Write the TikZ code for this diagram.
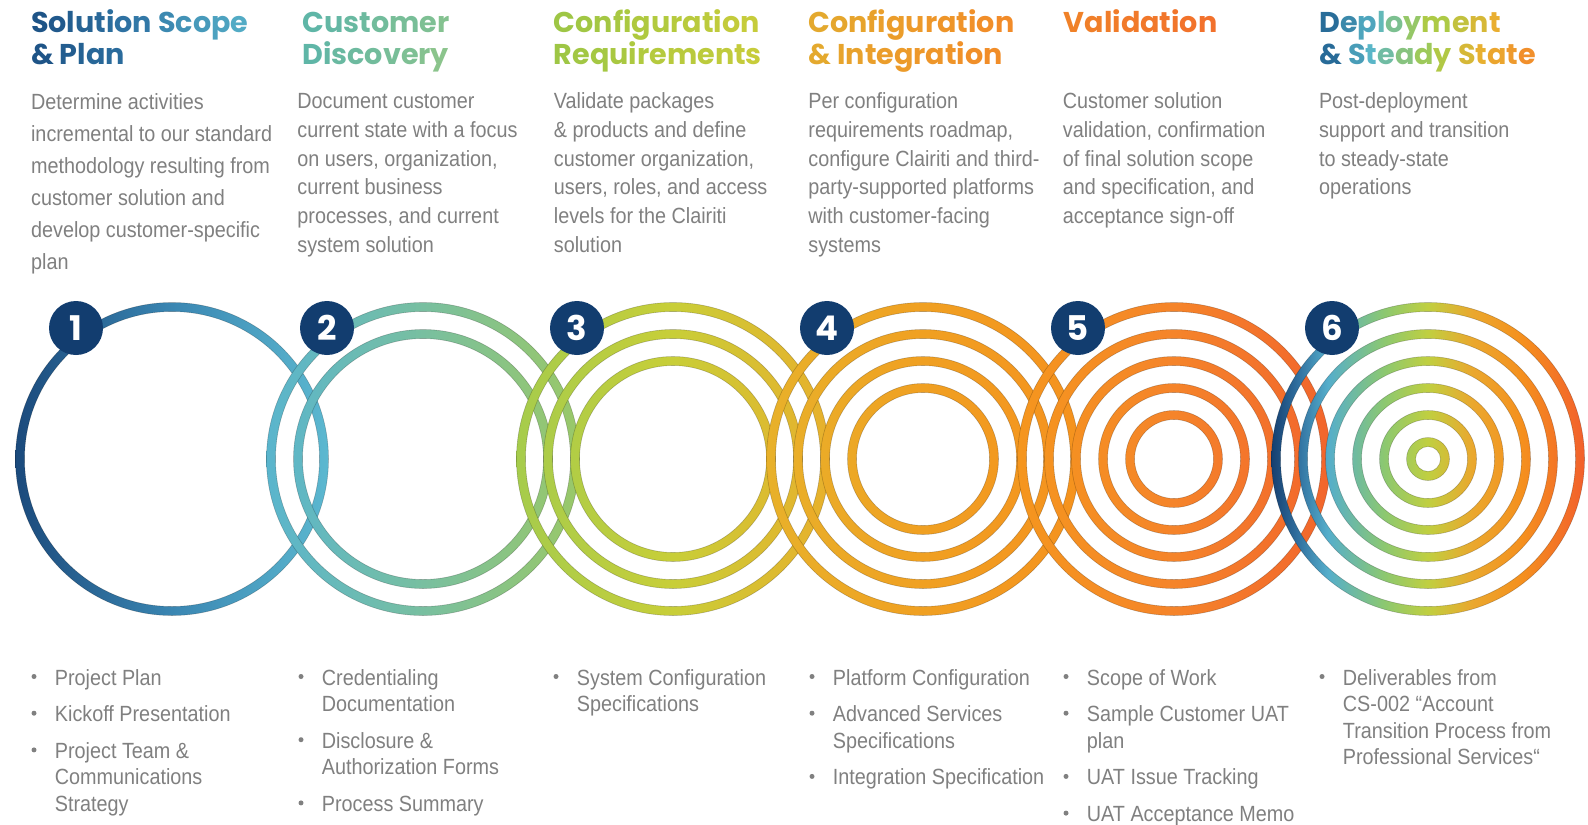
\documentclass[tikz,border=0pt]{standalone}
\usepackage{fontspec}
\usetikzlibrary{calc}

\newfontfamily\bodyfont{Liberation Sans}[FakeStretch=0.9]
\newfontfamily\titlefont{Poppins}[FakeStretch=1.0]

% text and badge colours
\definecolor{txtgray}{HTML}{808080}
\definecolor{badgenavy}{HTML}{123D6F}

% ring colours, left to right in each group
\definecolor{r1a}{HTML}{1B4A7C}\definecolor{r1b}{HTML}{3A86B2}\definecolor{r1c}{HTML}{5CB8D0}
\definecolor{r2a}{HTML}{5AB5CD}\definecolor{r2b}{HTML}{78BFA0}\definecolor{r2c}{HTML}{9AC868}
\definecolor{r3a}{HTML}{A6CC4C}\definecolor{r3b}{HTML}{C8CE38}\definecolor{r3c}{HTML}{E8B02C}
\definecolor{r4a}{HTML}{E8B12A}\definecolor{r4b}{HTML}{F0A022}\definecolor{r4c}{HTML}{F5921E}
\definecolor{r5a}{HTML}{F5961E}\definecolor{r5b}{HTML}{F5842A}\definecolor{r5c}{HTML}{F2652C}
\definecolor{r6a}{HTML}{163F70}\definecolor{r6b}{HTML}{2F6E9E}\definecolor{r6c}{HTML}{55AECB}
\definecolor{r6d}{HTML}{8CC870}\definecolor{r6e}{HTML}{C0CF40}\definecolor{r6f}{HTML}{EAA82E}
\definecolor{r6g}{HTML}{F5901E}\definecolor{r6h}{HTML}{F2602C}

% heading colours
\definecolor{tA1}{HTML}{1D5285}\definecolor{tA2}{HTML}{2F74A4}\definecolor{tA3}{HTML}{55AFC8}
\definecolor{tB1}{HTML}{5DB5A8}\definecolor{tB2}{HTML}{72BC9C}\definecolor{tB3}{HTML}{8EC58A}
\definecolor{tC1}{HTML}{9CC646}\definecolor{tC2}{HTML}{B3CA3E}\definecolor{tC3}{HTML}{C9CC3A}
\definecolor{tD1}{HTML}{E3AA2E}\definecolor{tD2}{HTML}{ED9A2A}\definecolor{tD3}{HTML}{F28A28}
\definecolor{tE1}{HTML}{F08228}\definecolor{tE2}{HTML}{F2702C}
\definecolor{tF1}{HTML}{1F5F90}\definecolor{tF2}{HTML}{5AB6C8}\definecolor{tF3}{HTML}{A8CC48}
\definecolor{tF4}{HTML}{E8B030}\definecolor{tF5}{HTML}{F38A2A}

% horizontal shadings for the ring groups (box spans 25bp..75bp)
\pgfdeclarehorizontalshading{ringone}{100bp}{color(0bp)=(r1a); color(25bp)=(r1a); color(50bp)=(r1b); color(75bp)=(r1c); color(100bp)=(r1c)}
\pgfdeclarehorizontalshading{ringtwo}{100bp}{color(0bp)=(r2a); color(25bp)=(r2a); color(50bp)=(r2b); color(75bp)=(r2c); color(100bp)=(r2c)}
\pgfdeclarehorizontalshading{ringthree}{100bp}{color(0bp)=(r3a); color(25bp)=(r3a); color(50bp)=(r3b); color(75bp)=(r3c); color(100bp)=(r3c)}
\pgfdeclarehorizontalshading{ringfour}{100bp}{color(0bp)=(r4a); color(25bp)=(r4a); color(50bp)=(r4b); color(75bp)=(r4c); color(100bp)=(r4c)}
\pgfdeclarehorizontalshading{ringfive}{100bp}{color(0bp)=(r5a); color(25bp)=(r5a); color(50bp)=(r5b); color(75bp)=(r5c); color(100bp)=(r5c)}
\pgfdeclarehorizontalshading{ringsix}{100bp}{color(0bp)=(r6a); color(25bp)=(r6a); color(29bp)=(r6b); color(34bp)=(r6c); color(43bp)=(r6d); color(50bp)=(r6e); color(57bp)=(r6f); color(65bp)=(r6g); color(75bp)=(r6h); color(100bp)=(r6h)}

% letter-by-letter colour gradient for headings
% \gradline{palette}{start}{end}{text}
\ExplSyntaxOn
\tl_new:N \l__gt_text_tl
\tl_new:N \l__gt_col_tl
\clist_new:N \l__gt_pal_clist
\int_new:N \l__gt_n_int
\int_new:N \l__gt_i_int
\int_new:N \l__gt_m_int
\int_new:N \l__gt_k_int
\fp_new:N \l__gt_s_fp
\cs_new_protected:Npn \__gt_setcolor:n #1
 {
   \fp_set:Nn \l__gt_s_fp { (#1) * (\l__gt_m_int - 1) }
   \int_set:Nn \l__gt_k_int { \fp_eval:n { floor(\l__gt_s_fp) } }
   \int_compare:nNnT \l__gt_k_int > { \l__gt_m_int - 2 }
     { \int_set:Nn \l__gt_k_int { \l__gt_m_int - 2 } }
   \int_compare:nNnT \l__gt_k_int < { 0 }
     { \int_set:Nn \l__gt_k_int { 0 } }
   \tl_set:Nx \l__gt_col_tl
     {
       \clist_item:Nn \l__gt_pal_clist { \l__gt_k_int + 1 }
       !
       \fp_eval:n { round( max(0, min(100, 100 * (1 - (\l__gt_s_fp - \l__gt_k_int)))), 1) }
       !
       \clist_item:Nn \l__gt_pal_clist { \l__gt_k_int + 2 }
     }
   \color{\l__gt_col_tl}
 }
\NewDocumentCommand \gradline { m m m m }
 {
   \clist_set:Nn \l__gt_pal_clist {#1}
   \int_set:Nn \l__gt_m_int { \clist_count:N \l__gt_pal_clist }
   \tl_set:Nn \l__gt_text_tl {#4}
   \tl_replace_all:Nnn \l__gt_text_tl { ~ } { \c_space_tl }
   \int_set:Nn \l__gt_n_int { \tl_count:N \l__gt_text_tl }
   \int_zero:N \l__gt_i_int
   \tl_map_inline:Nn \l__gt_text_tl
    {
      \int_incr:N \l__gt_i_int
      \group_begin:
      \__gt_setcolor:n { #2 + (#3 - #2) * (\l__gt_i_int - 0.5) / \l__gt_n_int }
      \scan_stop:
      ##1
      \group_end:
    }
 }
\ExplSyntaxOff

\tikzset{
  ttl/.style={anchor=base west, inner sep=0pt, font=\titlefont\bfseries\fontsize{14.3}{16}\selectfont},
  bodytxt/.style={anchor=base west, inner sep=0pt, text=txtgray, font=\bodyfont\fontsize{11}{13}\selectfont},
  bdot/.style={circle, fill=txtgray, inner sep=0pt, minimum size=2.5pt},
  badge/.style={circle, fill=badgenavy, text=white, inner sep=0pt, minimum size=27pt,
    font=\titlefont\bfseries\fontsize{17}{17}\selectfont},
  ringedge/.style={draw=black, draw opacity=0.22, line width=0.3pt}
}

% a group of concentric rings: centre, number of rings, shading
\newcommand\ringset[3]{%
  \shade[shading=#3, even odd rule] foreach \k in {1,...,#2} {
    (#1) circle[radius={156.5-27*(\k-1)}] (#1) circle[radius={147.5-27*(\k-1)}] };
  \path[ringedge] foreach \k in {1,...,#2} {
    (#1) circle[radius={156.5-27*(\k-1)}] (#1) circle[radius={147.5-27*(\k-1)}] };
}
% a paragraph set line by line: name, x, first baseline, line step, lines
\newcommand\bodycol[5]{%
  \foreach \lineText [count=\k from 0] in {#5} {
    \node[bodytxt] (#1-\k) at (#2, {#3+#4*\k}) {\lineText};
  }%
}
% a bullet item: name, bullet x, first baseline, lines
\newcommand\bul[4]{%
  \node[bdot] (#1) at (#2, {#3-8.5}) {};
  \foreach \lineText [count=\k from 0] in {#4} {
    \node[bodytxt] (#1-\k) at ({#2+20.5}, {#3+26.5*\k}) {\lineText};
  }%
}

\begin{document}
\begin{tikzpicture}[x=0.5pt, y=-0.5pt]
\path[use as bounding box, fill=white] (0,0) rectangle (1588,824);

% ring groups
\coordinate (c1) at (172,459);
\coordinate (c2) at (423,459);
\coordinate (c3) at (673,459);
\coordinate (c4) at (923,459);
\coordinate (c5) at (1174,459);
\coordinate (c6) at (1428,459);
\ringset{c1}{1}{ringone}
\ringset{c2}{2}{ringtwo}
\ringset{c3}{3}{ringthree}
\ringset{c4}{4}{ringfour}
\ringset{c5}{5}{ringfive}
\ringset{c6}{6}{ringsix}

% step numbers
\foreach \n in {1,...,6} {
  \node[badge] (n\n) at ($(c\n)+(-96,-131)$) {\n};
}

% headings
\node[ttl] (t1a) at (30.7,33) {\gradline{tA1,tA2,tA3}{0}{1}{Solution Scope}};
\node[ttl] (t1b) at (30.7,64.5) {\gradline{tA1,tA2,tA3}{0}{0.4}{\& Plan}};
\node[ttl] (t2a) at (302,33) {\gradline{tB1,tB2,tB3}{0}{0.88}{Customer}};
\node[ttl] (t2b) at (302,64.5) {\gradline{tB1,tB2,tB3}{0}{1}{Discovery}};
\node[ttl] (t3a) at (553.5,33) {\gradline{tC1,tC2,tC3}{0}{0.97}{Configuration}};
\node[ttl] (t3b) at (553.5,64.5) {\gradline{tC1,tC2,tC3}{0}{1}{Requirements}};
\node[ttl] (t4a) at (808,33) {\gradline{tD1,tD2,tD3}{0}{1}{Configuration}};
\node[ttl] (t4b) at (808,64.5) {\gradline{tD1,tD2,tD3}{0}{0.95}{\& Integration}};
\node[ttl] (t5a) at (1063.5,33) {\gradline{tE1,tE2}{0}{1}{Validation}};
\node[ttl] (t6a) at (1319,33) {\gradline{tF1,tF2,tF3,tF4,tF5}{0}{0.8}{Deployment}};
\node[ttl] (t6b) at (1319,64.5) {\gradline{tF1,tF2,tF3,tF4,tF5}{0}{1}{\& Steady State}};

% descriptions
\bodycol{d1}{30.7}{109.5}{32}{Determine activities, incremental to our standard, methodology resulting from, customer solution and, develop customer-specific, plan}
\bodycol{d2}{297}{109}{28.6}{Document customer, current state with a focus, {on users, organization,}, current business, {processes, and current}, system solution}
\bodycol{d3}{553.5}{109}{28.6}{Validate packages, \& products and define, {customer organization,}, {users, roles, and access}, levels for the Clairiti, solution}
\bodycol{d4}{808}{109}{28.6}{Per configuration, {requirements roadmap,}, configure Clairiti and third-, party-supported platforms, with customer-facing, systems}
\bodycol{d5}{1062.5}{109}{28.6}{Customer solution, {validation, confirmation}, of final solution scope, {and specification, and}, acceptance sign-off}
\bodycol{d6}{1318.6}{109}{28.6}{Post-deployment, support and transition, to steady-state, operations}

% deliverables
\bul{a1}{34}{685}{Project Plan}
\bul{a2}{34}{721.7}{Kickoff Presentation}
\bul{a3}{34}{758.4}{Project Team \&, Communications, Strategy}
\bul{b1}{301}{685}{Credentialing, Documentation}
\bul{b2}{301}{748.2}{Disclosure \&, Authorization Forms}
\bul{b3}{301}{811.4}{Process Summary}
\bul{e1}{556}{685}{System Configuration, Specifications}
\bul{f1}{812}{685}{Platform Configuration}
\bul{f2}{812}{721.7}{Advanced Services, Specifications}
\bul{f3}{812}{784.9}{Integration Specification}
\bul{g1}{1066}{685}{Scope of Work}
\bul{g2}{1066}{721.7}{Sample Customer UAT, plan}
\bul{g3}{1066}{784.9}{UAT Issue Tracking}
\bul{g4}{1066}{821.6}{UAT Acceptance Memo}
\bul{h1}{1322}{685}{Deliverables from, CS-002 “Account, Transition Process from, Professional Services“}
\end{tikzpicture}
\end{document}
